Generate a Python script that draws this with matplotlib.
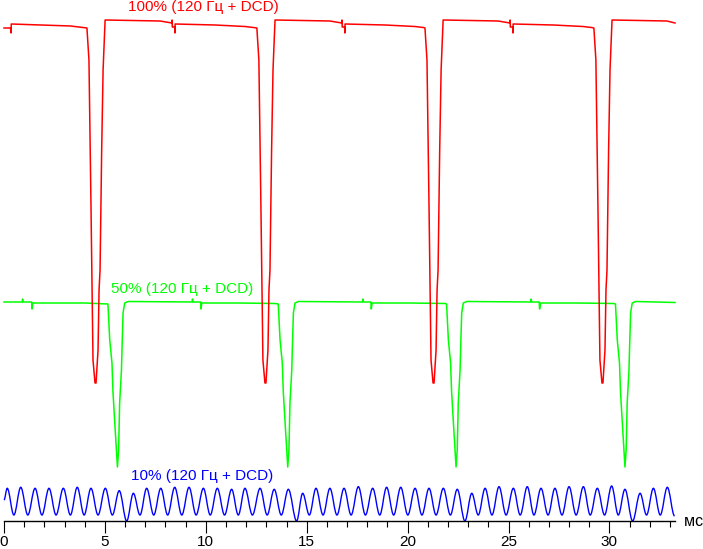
import matplotlib
matplotlib.use("Agg")
import matplotlib.pyplot as plt
from matplotlib.path import Path
from matplotlib.patches import PathPatch
from matplotlib.ticker import MultipleLocator

T_END = 33.25  # ms, right end of the time axis

# --- 100% (red): bottoms of the dips, ms
red_dips = [4.51, 12.93, 21.26, 29.63]
# shape of one dip: offset from the bottom (ms) and level
red_dip_dt = [-0.40, -0.30, -0.20, -0.10, 0.0, 0.05, 0.15, 0.20, 0.25, 0.33, 0.40]
red_dip_lv = [493, 461, 316, 161, 138, 138, 171, 231, 251, 371, 451]
# plateau after a dip: offset from the bottom (ms) and level
red_flat_dt = [0.50, 3.22, 3.81, 3.82, 3.83, 3.95, 3.96, 3.97, 5.95, 7.43, 7.85]
red_flat_lv = [501, 500, 498, 501, 494, 494, 488, 497, 496, 494.5, 493.5]
# start of the trace, before the first dip
red_head_t = [0.0, 0.34, 0.35, 0.36, 3.30]
red_head_lv = [493, 493, 488, 497, 495]
red_tail_lv = 498

# --- 50% (green)
green_dips = [5.62, 14.06, 22.40, 30.77]
green_dip_dt = [-0.47, -0.38, -0.27, -0.22, -0.13, -0.05, 0.0, 0.06, 0.11, 0.20, 0.23, 0.28, 0.36]
green_dip_lv = [217, 181, 158, 129, 98, 71, 54, 71, 118, 151, 174, 208, 218]
green_flat_dt = [0.53, 3.70, 3.72, 3.75, 4.12, 4.14, 4.18, 6.00, 7.80]
green_flat_lv = [219.5, 219, 222, 219, 219, 212, 218, 218, 217.5]
green_head_t = [0.0, 0.90, 0.92, 0.95, 1.37, 1.39, 1.42, 4.00]
green_head_lv = [219, 219, 222, 219, 219, 212, 218, 218]
green_tail_lv = 218.5

# --- 10% (blue): extrema of the ripple
blue_peak_t = [0.16, 0.83, 1.54, 2.23, 2.94, 3.63, 4.31, 5.02, 5.71, 6.41, 7.07, 7.77,
               8.46, 9.17, 9.88, 10.57, 11.28, 11.94, 12.69, 13.39, 14.09, 14.80,
               15.46, 16.15, 16.85, 17.56, 18.27, 18.96, 19.66, 20.37, 21.06, 21.77,
               22.46, 23.18, 23.84, 24.53, 25.24, 25.93, 26.61, 27.30, 28.00, 28.71,
               29.40, 30.11, 30.77, 31.52, 32.18, 32.87]
blue_peak_lv = [32.7, 33.7, 32.7, 32.7, 32.7, 33.7, 32.7, 32.7, 30.3, 27.7, 32.7, 32.7,
                33.7, 33.7, 32.7, 32.7, 31.7, 32.7, 32.7, 31.7, 31.7, 27.7,
                32.7, 32.7, 32.7, 34.3, 32.7, 33.7, 33.7, 32.7, 32.7, 32.7,
                31.7, 27.7, 32.7, 34.3, 32.7, 34.3, 32.7, 32.7, 34.3, 34.3,
                32.7, 35.0, 31.7, 27.7, 32.7, 33.7]
blue_trough_t = [0.49, 1.18, 1.88, 2.58, 3.29, 3.97, 4.66, 5.37, 6.08, 6.74, 7.42, 8.11,
                 8.81, 9.52, 10.22, 10.93, 11.61, 12.31, 13.04, 13.74, 14.50, 15.13,
                 15.81, 16.50, 17.20, 17.91, 18.62, 19.31, 20.01, 20.71, 21.41, 22.12,
                 22.84, 23.50, 24.18, 24.88, 25.58, 26.26, 26.96, 27.65, 28.35, 29.05,
                 29.76, 30.44, 31.15, 31.84, 32.52, 33.23]
blue_trough_lv = [6, 6, 6, 6, 6, 6, 6, 6, 0, 6, 6, 6,
                  6, 6, 6, 6, 6, 6, 6, 6, 0, 6,
                  6, 6, 6, 6, 6, 6, 6, 6, 6, 6,
                  0, 6, 6, 6, 6, 6, 6, 6, 6, 6,
                  6, 6, 0, 6, 6, 5]
blue_start_lv = 21

labels = ["100% (120 Гц + DCD)", "50% (120 Гц + DCD)", "10% (120 Гц + DCD)"]
label_t = [9.88, 8.83, 9.84]
label_lv = [509.5, 228, 41]
colors = ["#ff0000", "#00ff00", "#0000ff"]


def build(head_t, head_lv, dips, dip_dt, dip_lv, flat_dt, flat_lv, tail_lv):
    t, v = list(head_t), list(head_lv)
    for c in dips:
        for dt, lv in zip(dip_dt, dip_lv):
            t.append(c + dt)
            v.append(lv)
        for dt, lv in zip(flat_dt, flat_lv):
            if c + dt < T_END:
                t.append(c + dt)
                v.append(lv)
    t.append(T_END)
    v.append(tail_lv)
    return t, v


def smooth_path(t, v):
    # horizontal tangents at every extremum, drawn as cubic bezier pieces
    verts = [(t[0], v[0])]
    codes = [Path.MOVETO]
    for i in range(len(t) - 1):
        d = (t[i + 1] - t[i]) * 0.36
        verts += [(t[i] + d, v[i]), (t[i + 1] - d, v[i + 1]), (t[i + 1], v[i + 1])]
        codes += [Path.CURVE4] * 3
    return Path(verts, codes)


def main():
    plt.rcParams["font.family"] = ["Liberation Sans", "DejaVu Sans"]
    fig = plt.figure(figsize=(7.03, 5.49), dpi=100)
    ax = fig.add_axes([4 / 703, 28 / 549, 671 / 703, 521 / 549])

    rt, rv = build(red_head_t, red_head_lv, red_dips, red_dip_dt, red_dip_lv,
                   red_flat_dt, red_flat_lv, red_tail_lv)
    gt, gv = build(green_head_t, green_head_lv, green_dips, green_dip_dt, green_dip_lv,
                   green_flat_dt, green_flat_lv, green_tail_lv)
    ax.plot(gt, gv, color=colors[1], lw=1.1, clip_on=False)
    ax.plot(rt, rv, color=colors[0], lw=1.1, clip_on=False)

    nodes = sorted(zip([0.0] + blue_peak_t + blue_trough_t,
                       [blue_start_lv] + blue_peak_lv + blue_trough_lv))
    bt = [n[0] for n in nodes]
    bv = [n[1] for n in nodes]
    ax.add_patch(PathPatch(smooth_path(bt, bv), fill=False, edgecolor=colors[2],
                           lw=1.0, clip_on=False))

    for txt, x, y, c in zip(labels, label_t, label_lv, colors):
        ax.text(x, y, txt, color=c, fontsize=11, ha="center", va="baseline")

    ax.set_xlim(0, T_END)
    ax.set_ylim(0, 521)
    for s in ["top", "left", "right"]:
        ax.spines[s].set_visible(False)
    ax.spines["bottom"].set_linewidth(1.0)
    ax.set_yticks([])
    ax.xaxis.set_major_locator(MultipleLocator(5))
    ax.xaxis.set_minor_locator(MultipleLocator(1))
    ax.tick_params(axis="x", which="major", direction="out", length=8.6, width=0.8,
                   labelsize=11, pad=1.2)
    ax.tick_params(axis="x", which="minor", direction="out", length=4.3, width=0.8)
    ax.text(1.0, 0, "  мс", transform=ax.transAxes, fontsize=11.5, ha="left", va="center")

    fig.savefig("out.png", dpi=100)


if __name__ == "__main__":
    main()
